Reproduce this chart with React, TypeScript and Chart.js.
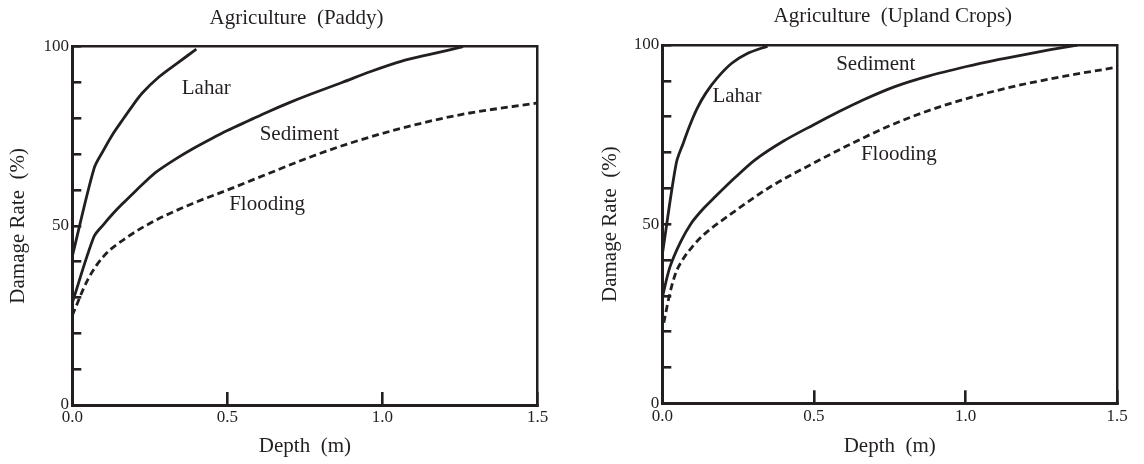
import { useEffect, useRef } from 'react';
import { Chart, registerables } from 'chart.js';

Chart.register(...registerables);

// ---------- data ----------
const depthTickStep = 0.5;
const rateTickStep = 10;
const rateLabelEvery = 50;

// Paddy
const paddyLaharDepth = [0, 0.07, 0.1, 0.13, 0.16, 0.19, 0.225, 0.28, 0.34, 0.4];
const paddyLaharRate = [41.5, 66, 71, 75.5, 79.3, 83, 87, 91.6, 95.5, 99.3];
const paddySedimentDepth = [0, 0.07, 0.1, 0.13, 0.16, 0.2, 0.235, 0.27, 0.33, 0.39, 0.45, 0.5, 0.57, 0.63, 0.7, 0.77, 0.87, 0.96, 1.06, 1.16, 1.26];
const paddySedimentRate = [28.5, 47, 50.3, 53.3, 56, 59.4, 62.3, 65, 68.5, 71.6, 74.4, 76.6, 79.4, 81.8, 84.4, 86.8, 90, 93, 95.9, 98, 100];
const paddyFloodingDepth = [0, 0.05, 0.1, 0.18, 0.27, 0.39, 0.5, 0.63, 0.77, 0.9, 1.06, 1.25, 1.5];
const paddyFloodingRate = [25, 35, 41.4, 47, 51.6, 56.3, 60, 64.5, 69.3, 73.2, 77.2, 81, 84.3];

// Upland crops
const uplandLaharDepth = [0, 0.046, 0.07, 0.089, 0.115, 0.143, 0.18, 0.229, 0.282, 0.347];
const uplandLaharRate = [41.5, 67, 72.8, 77.2, 82.3, 86.5, 90.7, 94.9, 97.7, 99.7];
const uplandSedimentDepth = [0, 0.025, 0.06, 0.095, 0.135, 0.175, 0.24, 0.305, 0.4, 0.498, 0.58, 0.66, 0.767, 0.88, 1.003, 1.1, 1.186, 1.28, 1.369];
const uplandSedimentRate = [29.5, 38, 45, 50.2, 54.3, 57.7, 63, 67.9, 73.2, 77.7, 81.3, 84.6, 88.4, 91.4, 94, 95.8, 97.2, 98.7, 100];
const uplandFloodingDepth = [0.005, 0.025, 0.045, 0.068, 0.1, 0.132, 0.229, 0.358, 0.498, 0.627, 0.756, 0.917, 1.132, 1.347, 1.5];
const uplandFloodingRate = [22.5, 30.7, 36.5, 40.2, 43.8, 46.7, 53, 60.5, 67, 72.6, 77.7, 82.8, 87.9, 91.6, 93.8];

// curve labels (text, depth, rate)
const curveNames = ['Lahar', 'Sediment', 'Flooding'];
const paddyLabelDepth = [0.432, 0.732, 0.628];
const paddyLabelRate = [88.4, 75.4, 56.1];
const uplandLabelDepth = [0.246, 0.704, 0.78];
const uplandLabelRate = [85.5, 94.6, 69.5];

const titles = ['Agriculture  (Paddy)', 'Agriculture  (Upland Crops)'];
const xTitle = 'Depth  (m)';
const yTitle = 'Damage Rate  (%)';

// ---------- style ----------
const INK = '#231f20';
const SERIF = "'Liberation Serif', 'Times New Roman', serif";

const toPts = (xs: number[], ys: number[]) => xs.map((x, i) => ({ x, y: ys[i] }));

const overlayPlugin = {
  id: 'overlayText',
  afterDraw(chart: any) {
    const o = chart.options.plugins.overlayText;
    if (!o) return;
    const ctx = chart.ctx;
    ctx.save();
    ctx.fillStyle = INK;
    ctx.font = `21px ${SERIF}`;
    ctx.textAlign = 'center';
    ctx.textBaseline = 'middle';
    ctx.fillText(o.title, o.titleX, o.titleY);
    const xs = chart.scales.x;
    const ys = chart.scales.y;
    o.names.forEach((n: string, i: number) => {
      ctx.fillText(n, xs.getPixelForValue(o.depth[i]), ys.getPixelForValue(o.rate[i]));
    });
    ctx.restore();
  },
};

interface Layout {
  width: number;
  height: number;
  padRight: number;
  padTop: number;
  yAxisWidth: number;
  xAxisHeight: number;
  yTitlePad: number;
  xTitlePad: number;
  yTickPad: number;
  xTickPad: number;
  titleX: number;
  titleY: number;
}

function makeConfig(
  sets: { d: number[]; r: number[]; dashed: boolean }[],
  title: string,
  labelDepth: number[],
  labelRate: number[],
  L: Layout
): any {
  return {
    type: 'line',
    data: {
      datasets: sets.map((s, i) => ({
        label: curveNames[i],
        data: toPts(s.d, s.r),
        borderColor: INK,
        borderWidth: 2.8,
        borderDash: s.dashed ? [7, 4] : [],
        pointRadius: 0,
        fill: false,
        borderJoinStyle: 'round',
        tension: s.dashed ? 0 : 0.3,
        cubicInterpolationMode: s.dashed ? 'monotone' : 'default',
      })),
    },
    options: {
      responsive: false,
      animation: false,
      devicePixelRatio: 1,
      events: [],
      parsing: false,
      layout: { padding: { left: 0, right: L.padRight, top: L.padTop, bottom: 0 } },
      plugins: {
        legend: { display: false },
        tooltip: { enabled: false },
        title: { display: false },
        overlayText: {
          title,
          titleX: L.titleX,
          titleY: L.titleY,
          names: curveNames,
          depth: labelDepth,
          rate: labelRate,
        },
      },
      scales: {
        x: {
          type: 'linear',
          position: 'bottom',
          min: 0,
          max: 1.5,
          afterFit: (s: any) => {
            s.height = L.xAxisHeight;
          },
          ticks: {
            stepSize: depthTickStep,
            autoSkip: false,
            maxRotation: 0,
            padding: L.xTickPad,
            color: INK,
            font: { family: SERIF, size: 17 },
            callback: (v: any) => Number(v).toFixed(1),
          },
          grid: {
            display: true,
            drawOnChartArea: false,
            drawTicks: true,
            tickLength: -13,
            lineWidth: 2.6,
            color: INK,
          },
          border: { display: true, width: 3, color: INK },
          title: {
            display: true,
            text: xTitle,
            color: INK,
            font: { family: SERIF, size: 21 },
            padding: { top: 0, bottom: L.xTitlePad },
          },
        },
        y: {
          type: 'linear',
          position: 'left',
          min: 0,
          max: 100,
          afterFit: (s: any) => {
            s.width = L.yAxisWidth;
          },
          ticks: {
            stepSize: rateTickStep,
            autoSkip: false,
            padding: L.yTickPad,
            color: INK,
            font: { family: SERIF, size: 17 },
            callback: (v: any) => (Number(v) % rateLabelEvery === 0 ? String(v) : ''),
          },
          grid: {
            display: true,
            drawOnChartArea: false,
            drawTicks: true,
            tickLength: -9,
            lineWidth: 2.6,
            color: INK,
          },
          border: { display: true, width: 3, color: INK },
          title: {
            display: true,
            text: yTitle,
            color: INK,
            font: { family: SERIF, size: 21 },
            padding: { top: L.yTitlePad, bottom: 0 },
          },
        },
        x2: {
          type: 'linear',
          position: 'top',
          min: 0,
          max: 1.5,
          afterFit: (s: any) => {
            s.height = 0;
          },
          ticks: { display: false },
          grid: { display: false, drawTicks: false },
          border: { display: true, width: 2.5, color: INK },
        },
        y2: {
          type: 'linear',
          position: 'right',
          min: 0,
          max: 100,
          afterFit: (s: any) => {
            s.width = 0;
          },
          ticks: { display: false },
          grid: { display: false, drawTicks: false },
          border: { display: true, width: 2.5, color: INK },
        },
      },
    },
    plugins: [overlayPlugin],
  };
}

const leftLayout: Layout = {
  width: 580,
  height: 464,
  padRight: 42.5,
  padTop: 46.7,
  yAxisWidth: 72.3,
  xAxisHeight: 59,
  yTitlePad: 5.9,
  xTitlePad: 4.7,
  yTickPad: 12.3,
  xTickPad: 15.8,
  titleX: 296.5,
  titleY: 18,
};

const rightLayout: Layout = {
  width: 564,
  height: 464,
  padRight: 16.3,
  padTop: 45,
  yAxisWidth: 82.3,
  xAxisHeight: 60.7,
  yTitlePad: 17.4,
  xTitlePad: 4.7,
  yTickPad: 12,
  xTickPad: 16.2,
  titleX: 312.8,
  titleY: 16.5,
};

function Panel({ config, layout }: { config: any; layout: Layout }) {
  const ref = useRef<HTMLCanvasElement | null>(null);
  useEffect(() => {
    if (!ref.current) return;
    const chart = new Chart(ref.current, config);
    return () => chart.destroy();
  }, [config]);
  return (
    <canvas
      ref={ref}
      width={layout.width}
      height={layout.height}
      style={{ display: 'block', width: layout.width, height: layout.height }}
    />
  );
}

const leftConfig = makeConfig(
  [
    { d: paddyLaharDepth, r: paddyLaharRate, dashed: false },
    { d: paddySedimentDepth, r: paddySedimentRate, dashed: false },
    { d: paddyFloodingDepth, r: paddyFloodingRate, dashed: true },
  ],
  titles[0],
  paddyLabelDepth,
  paddyLabelRate,
  leftLayout
);

const rightConfig = makeConfig(
  [
    { d: uplandLaharDepth, r: uplandLaharRate, dashed: false },
    { d: uplandSedimentDepth, r: uplandSedimentRate, dashed: false },
    { d: uplandFloodingDepth, r: uplandFloodingRate, dashed: true },
  ],
  titles[1],
  uplandLabelDepth,
  uplandLabelRate,
  rightLayout
);

export default function App() {
  return (
    <div
      style={{
        position: 'absolute',
        left: 0,
        top: 0,
        width: 1144,
        height: 464,
        display: 'flex',
        background: '#fff',
        overflow: 'hidden',
      }}
    >
      <Panel config={leftConfig} layout={leftLayout} />
      <Panel config={rightConfig} layout={rightLayout} />
    </div>
  );
}
